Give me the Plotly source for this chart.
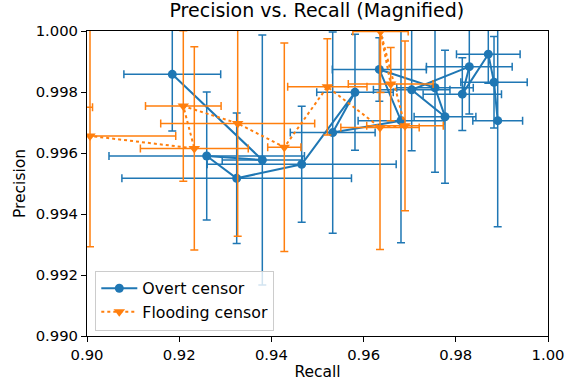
import plotly.graph_objects as go

# Overt censor (blue), in plotted (connection) order
overt_recall = [0.91850, 0.93803, 0.92597, 0.93247, 0.94657, 0.95813, 0.95330, 0.96811, 0.96341,
                0.97549, 0.97766, 0.97043, 0.98293, 0.98141, 0.98705, 0.98829, 0.98909]
overt_precision = [0.99858, 0.99577, 0.99590, 0.99517, 0.99563, 0.99799, 0.99667, 0.99706, 0.99874,
                   0.99814, 0.99719, 0.99807, 0.99883, 0.99793, 0.99924, 0.99832, 0.99706]
overt_recall_err = [0.0105, 0.0087, 0.0212, 0.0249, 0.0205, 0.0083, 0.0092, 0.0093, 0.0102,
                    0.0083, 0.0067, 0.0083, 0.0093, 0.0085, 0.0069, 0.0072, 0.0054]
overt_precision_err = [0.00186, 0.0041, 0.0021, 0.00214, 0.0019, 0.0019, 0.0033, 0.0040, 0.00104,
                       0.00277, 0.00218, 0.0020, 0.00155, 0.00119, 0.00095, 0.0015, 0.00348]

# Flooding censor (orange)
flood_recall = [0.8935, 0.90065, 0.92328, 0.92089, 0.93269, 0.94280, 0.95213, 0.96356, 0.96898, 0.96367, 0.96588]
flood_precision = [0.99750, 0.99656, 0.99615, 0.99754, 0.99697, 0.99619, 0.99817, 0.99684, 0.99689, 0.99998, 0.99826]
flood_recall_err = [0.0077, 0.0186, 0.0117, 0.0082, 0.0167, 0.0036, 0.0086, 0.0085, 0.0083, 0.0060, 0.0092]
flood_precision_err = [0.0020, 0.00363, 0.00333, 0.00247, 0.0037, 0.00342, 0.00158, 0.0040, 0.00278, 0.0020, 0.0012]

x_ticks = [0.90, 0.92, 0.94, 0.96, 0.98, 1.00]
y_ticks = [0.990, 0.992, 0.994, 0.996, 0.998, 1.000]

BLUE = "#1f77b4"
ORANGE = "#ff7f0e"
FONT = "DejaVu Sans"

fig = go.Figure()
fig.add_trace(go.Scatter(
    x=overt_recall, y=overt_precision, mode="lines+markers", name="Overt censor",
    line=dict(color=BLUE, width=2),
    marker=dict(symbol="circle", size=9, color=BLUE),
    error_x=dict(type="data", array=overt_recall_err, color=BLUE, thickness=1.5, width=4),
    error_y=dict(type="data", array=overt_precision_err, color=BLUE, thickness=1.5, width=4),
))
fig.add_trace(go.Scatter(
    x=flood_recall, y=flood_precision, mode="lines+markers", name="Flooding censor",
    line=dict(color=ORANGE, width=2, dash="dot"),
    marker=dict(symbol="triangle-down", size=10, color=ORANGE),
    error_x=dict(type="data", array=flood_recall_err, color=ORANGE, thickness=1.5, width=4),
    error_y=dict(type="data", array=flood_precision_err, color=ORANGE, thickness=1.5, width=4),
))

axis_common = dict(showline=True, linecolor="black", linewidth=1, mirror=True,
                   ticks="outside", ticklen=5, tickwidth=1, tickcolor="black",
                   showgrid=False, zeroline=False, automargin=False,
                   tickfont=dict(family=FONT, size=14.8, color="black"))

fig.update_layout(
    width=573, height=386,
    margin=dict(l=87, r=25, t=31, b=50, autoexpand=False),
    paper_bgcolor="white", plot_bgcolor="white",
    title=dict(text="Precision vs. Recall (Magnified)", x=0.553, xanchor="center", y=0.99, yanchor="top",
               font=dict(family=FONT, size=19, color="black")),
    xaxis=dict(range=[0.90, 1.00], tickvals=x_ticks, ticktext=[f"{v:.2f}" for v in x_ticks],
               title=dict(text="Recall", font=dict(family=FONT, size=15.5, color="black"), standoff=4),
               **axis_common),
    yaxis=dict(range=[0.990, 1.000], tickvals=y_ticks, ticktext=[f"{v:.3f}" for v in y_ticks],
               title=dict(text="Precision", font=dict(family=FONT, size=15.5, color="black"), standoff=6),
               **axis_common),
    legend=dict(x=0.018, y=0.018, xanchor="left", yanchor="bottom",
                bgcolor="rgba(255,255,255,0.8)", bordercolor="#cccccc", borderwidth=1,
                itemwidth=36, tracegroupgap=0,
                font=dict(family=FONT, size=15.8, color="black")),
    showlegend=True,
)

fig.write_html("out.html")
